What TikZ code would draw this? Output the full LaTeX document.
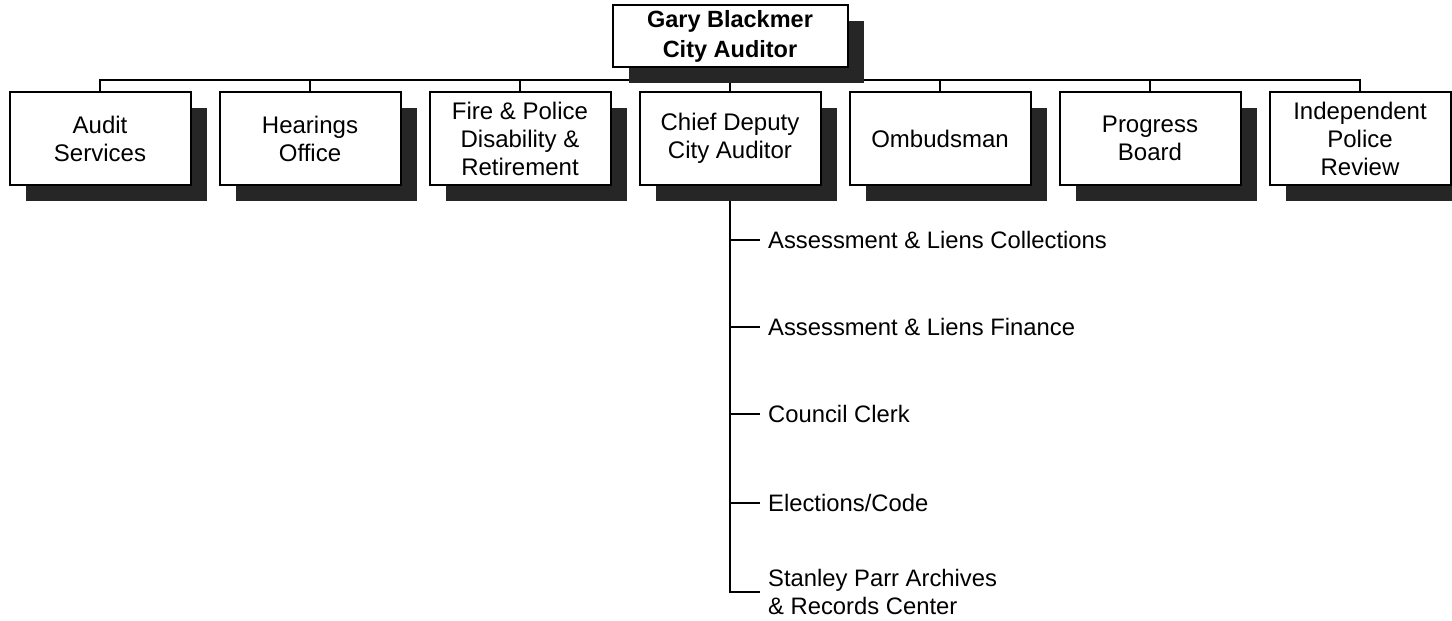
\documentclass[tikz,border=0pt]{standalone}
\usepackage{fontspec}
\setmainfont{Liberation Sans}
\usetikzlibrary{shadows,backgrounds}
\definecolor{shadowgray}{HTML}{262626}

\begin{document}
\begin{tikzpicture}[x=1pt,y=-1pt,
    unit/.style={draw, line width=2pt, fill=white, minimum width=181pt, minimum height=93pt,
      align=center, font=\fontsize{24}{28}\selectfont,
      drop shadow={shadow xshift=16pt, shadow yshift=-16pt, fill=shadowgray, opacity=1}},
    head/.style={unit, minimum width=235pt, minimum height=62pt, font=\fontsize{23.5}{30}\selectfont\bfseries},
    item/.style={anchor=west, align=left, inner xsep=8pt, inner ysep=0pt, font=\fontsize{23.8}{28}\selectfont},
    link/.style={line width=2pt}]
    \useasboundingbox (0,0) rectangle (1452,621) ;

    \node[head] at (730,36) (top) {Gary Blackmer\\City Auditor} ;

    \node[unit] at (100,138.5) (aud) {Audit\\Services} ;
    \node[unit] at (310,138.5) (hear) {Hearings\\Office} ;
    \node[unit] at (520,138.5) (fire) {Fire \& Police\\Disability \&\\Retirement} ;
    \node[unit] at (730,138.5) (chief) {Chief Deputy\\City Auditor} ;
    \node[unit] at (940,138.5) (omb) {Ombudsman} ;
    \node[unit] at (1150,138.5) (prog) {Progress\\Board} ;
    \node[unit] at (1360,138.5) (ipr) {Independent\\Police\\Review} ;

    \node[item] at (760,240) (alc) {Assessment \& Liens Collections} ;
    \node[item] at (760,327) (alf) {Assessment \& Liens Finance} ;
    \node[item] at (760,414) (clerk) {Council Clerk} ;
    \node[item] at (760,503) (elec) {Elections/Code} ;
    \node[item] at (760,592) (rec) {Stanley Parr Archives\\\& Records Center} ;

    \coordinate (bus) at (0,80) ;
    \begin{scope}[on background layer]
      \draw[link] (top.south) -- (top.south |- bus) ;
      \draw[link] (aud.north) -- (aud.north |- bus) -- (ipr.north |- bus) -- (ipr.north) ;
      \foreach \n in {hear,fire,chief,omb,prog}
        \draw[link] (\n.north) -- (\n.north |- bus) ;
      \draw[link] (chief.south) |- (rec.west) ;
      \foreach \n in {alc,alf,clerk,elec}
        \draw[link] (chief.south |- \n.west) -- (\n.west) ;
    \end{scope}
\end{tikzpicture}
\end{document}
